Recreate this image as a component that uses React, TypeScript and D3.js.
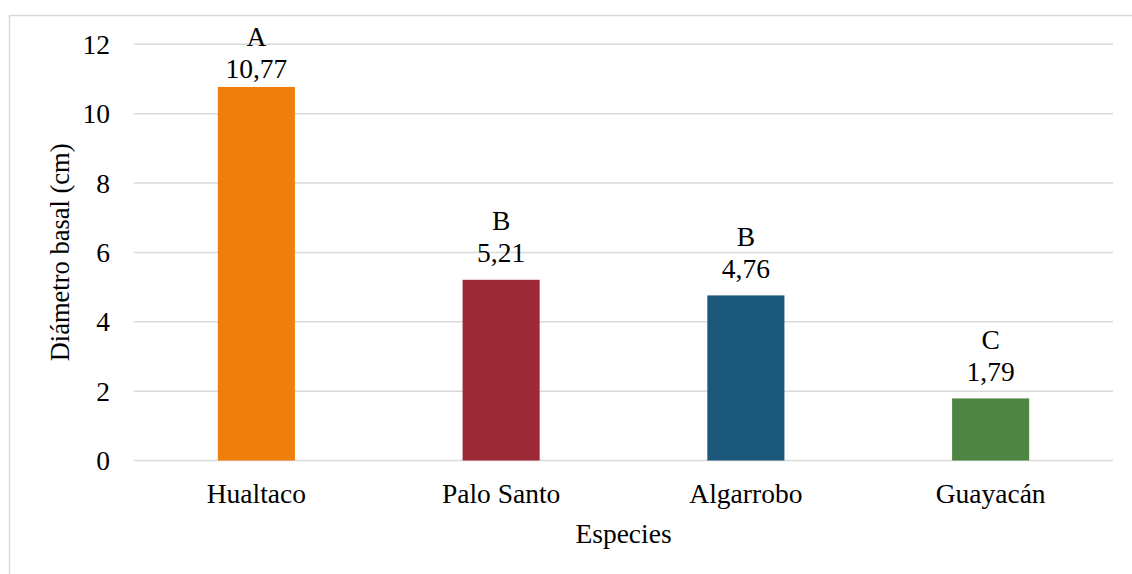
import React from "react";
import * as d3 from "d3";

const species = ["Hualtaco", "Palo Santo", "Algarrobo", "Guayacán"];
const diameters = [10.77, 5.21, 4.76, 1.79];
const groups = ["A", "B", "B", "C"];
const barColors = ["#EF7F0A", "#9E2936", "#1C587B", "#4E8542"];
const yTicks = [0, 2, 4, 6, 8, 10, 12];

const W = 1132;
const H = 574;
const plot = { left: 134, right: 1113, top: 44.3, bottom: 460.5 };
const FONT = "'Liberation Serif', 'Times New Roman', serif";
const FS = 27.5;

export default function App() {
  const x = d3
    .scaleBand<string>()
    .domain(species)
    .range([plot.left, plot.right])
    .paddingInner(0.685)
    .paddingOuter(0.3425);
  const y = d3.scaleLinear().domain([0, 12]).range([plot.bottom, plot.top]);
  const fmt = (v: number) => v.toFixed(2).replace(".", ",");

  return (
    <svg
      width={W}
      height={H}
      style={{ position: "absolute", left: 0, top: 0, background: "#fff" }}
      fontFamily={FONT}
    >
      <rect x={9.5} y={15.5} width={W} height={H} fill="none" stroke="#d9d9d9" strokeWidth={1.5} />
      {yTicks.map((t) => (
        <g key={t}>
          <line x1={plot.left} x2={plot.right} y1={y(t)} y2={y(t)} stroke="#d9d9d9" strokeWidth={1.5} />
          <text x={110} y={y(t)} dy="0.35em" textAnchor="end" fontSize={FS} fill="#000">
            {t}
          </text>
        </g>
      ))}
      {species.map((s, i) => {
        const top = y(diameters[i]);
        const valueBase = Math.max(top - 17.3, 78);
        const cx = (x(s) as number) + x.bandwidth() / 2;
        return (
          <g key={s}>
            <rect x={x(s)} y={top} width={x.bandwidth()} height={plot.bottom - top} fill={barColors[i]} />
            <text x={cx} y={valueBase} textAnchor="middle" fontSize={FS} fill="#000">
              {fmt(diameters[i])}
            </text>
            <text x={cx} y={valueBase - 32.5} textAnchor="middle" fontSize={FS} fill="#000">
              {groups[i]}
            </text>
            <text x={cx} y={503} textAnchor="middle" fontSize={FS} fill="#000">
              {s}
            </text>
          </g>
        );
      })}
      <text x={(plot.left + plot.right) / 2} y={543} textAnchor="middle" fontSize={FS} fill="#000">
        Especies
      </text>
      <text
        transform={`translate(69, ${(plot.top + plot.bottom) / 2}) rotate(-90)`}
        textAnchor="middle"
        fontSize={26.5}
        fill="#000"
      >
        Diámetro basal (cm)
      </text>
    </svg>
  );
}
